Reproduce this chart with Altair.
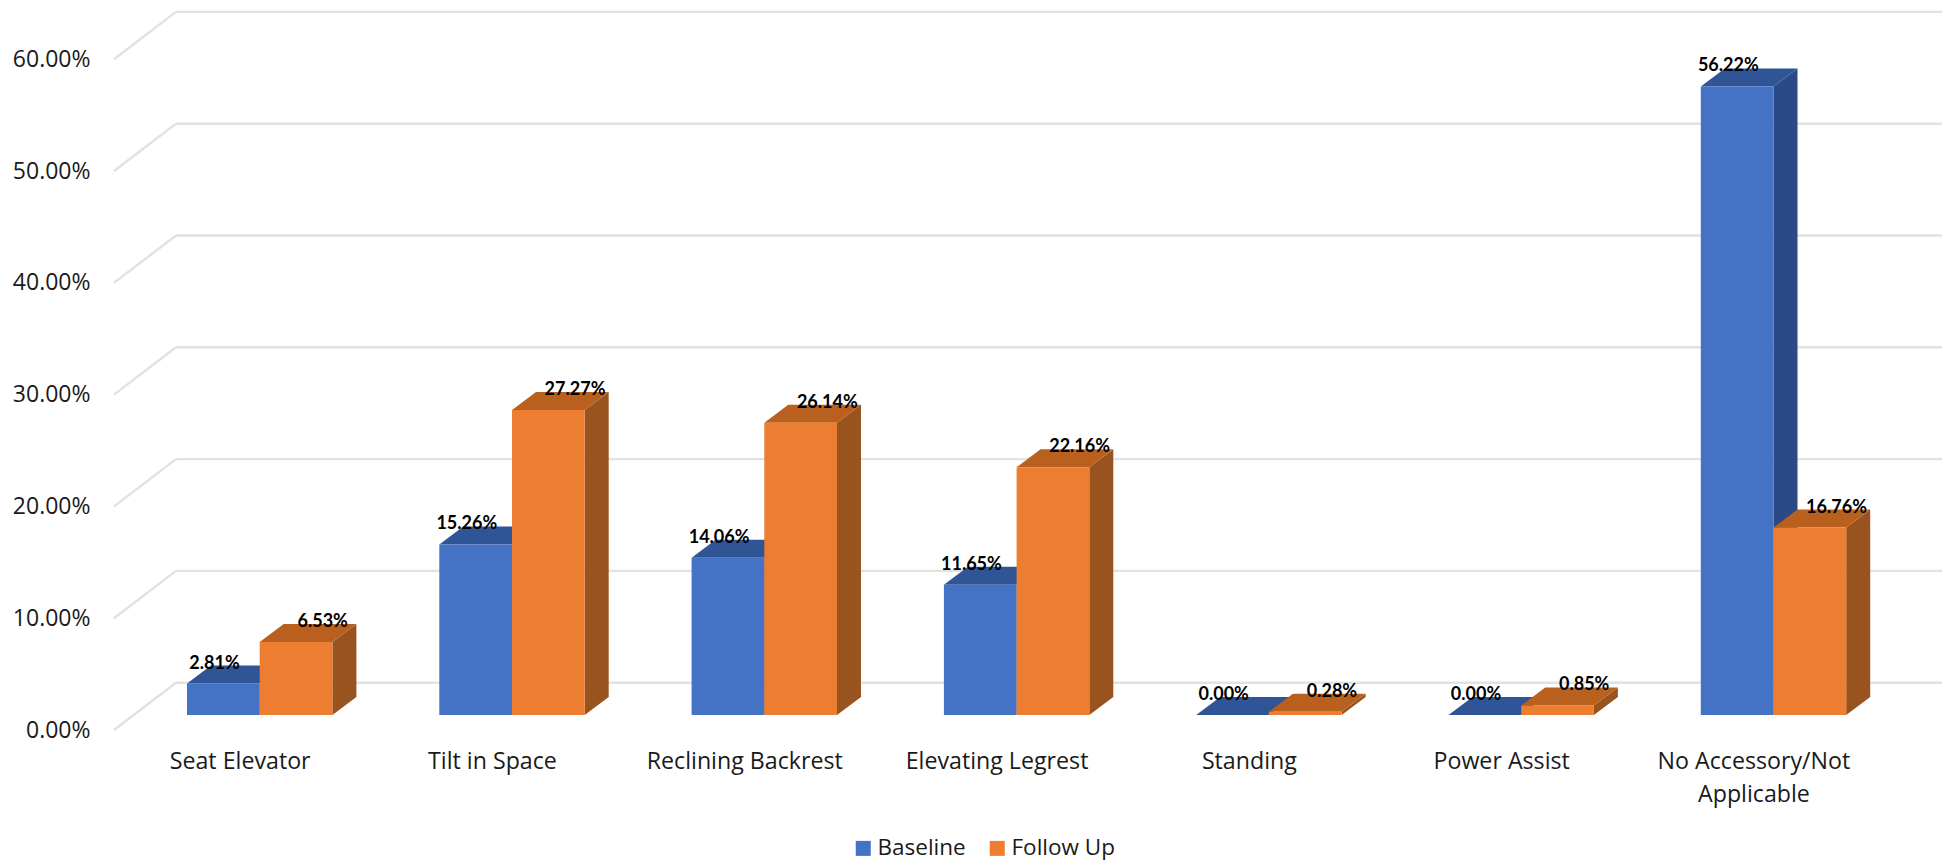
import altair as alt
import pandas as pd

categories = ["Seat Elevator", "Tilt in Space", "Reclining Backrest", "Elevating Legrest",
              "Standing", "Power Assist", "No Accessory/Not\nApplicable"]
baseline = [2.81, 15.26, 14.06, 11.65, 0.00, 0.00, 56.22]
follow_up = [6.53, 27.27, 26.14, 22.16, 0.28, 0.85, 16.76]
series_names = ["Baseline", "Follow Up"]
tick_values = [0, 10, 20, 30, 40, 50, 60]

FRONT = {"Baseline": "#4472C4", "Follow Up": "#ED7D31"}
TOP = {"Baseline": "#2F5597", "Follow Up": "#B9601F"}
SIDE = {"Baseline": "#2B4A85", "Follow Up": "#99531F"}
GRID = "#E2E2E2"

PLOT_W, PLOT_H = 1828, 850
PX_Y = 11.18                 # px per percentage point
PX_X = 252.3                 # px per category
X_MAX = PLOT_W / PX_X
Y_MAX = 718 / PX_Y
Y_MIN = Y_MAX - PLOT_H / PX_Y

FLOOR_DX, FLOOR_DY = 62 / PX_X, 47.3 / PX_Y
BASE = 15 / PX_Y
BAR_W = 72.7 / PX_X
BAR_X0 = 73 / PX_X
DEPTH_X, DEPTH_Y = 24 / PX_X, 18 / PX_Y

x_scale = alt.Scale(domain=[0, X_MAX], range=[0, PLOT_W], nice=False, zero=False)
y_scale = alt.Scale(domain=[Y_MIN, Y_MAX], nice=False, zero=False)

y_axis = alt.Axis(
    values=tick_values, title=None, domain=False, ticks=False, grid=False,
    labelExpr="format(datum.value/100,'.2%')", labelFont="Open Sans",
    labelFontSize=23, labelColor="#1a1a1a", labelPadding=24)

X = alt.X("x:Q", scale=x_scale, axis=None)
Y = alt.Y("y:Q", scale=y_scale, axis=y_axis, title=None)

# --- floor / wall gridlines
grid_rows, diag_rows = [], []
for t in tick_values:
    grid_rows.append({"x": FLOOR_DX, "x2": X_MAX, "y": t + FLOOR_DY})
    diag_rows.append({"x": 0, "y": t, "tick": t})
    diag_rows.append({"x": FLOOR_DX, "y": t + FLOOR_DY, "tick": t})

wall = alt.Chart(pd.DataFrame(grid_rows)).mark_rule(color=GRID, strokeWidth=2.4).encode(
    x=X, x2="x2:Q", y=Y)
diag = alt.Chart(pd.DataFrame(diag_rows)).mark_line(color=GRID, strokeWidth=2.4).encode(
    x=X, y=Y, detail="tick:N")

# --- bars
front_rows, side_rows, top_rows, label_rows = [], [], [], []
for s, (name, values) in enumerate(zip(series_names, [baseline, follow_up])):
    for i, v in enumerate(values):
        x0 = i + BAR_X0 + s * BAR_W
        x1 = x0 + BAR_W
        yb = BASE
        yv = BASE + v
        key = f"{i}"
        front_rows.append({"series": name, "x": x0, "x2": x1, "y": yb, "y2": yv})
        side_rows += [
            {"series": name, "k": key, "x": x1, "y": yb, "y2": yv},
            {"series": name, "k": key, "x": x1 + DEPTH_X, "y": yb + DEPTH_Y, "y2": yv + DEPTH_Y},
        ]
        top_rows += [
            {"series": name, "k": key, "x": x0, "y": yv, "y2": yv},
            {"series": name, "k": key, "x": x0 + DEPTH_X, "y": yv, "y2": yv + DEPTH_Y},
            {"series": name, "k": key, "x": x1, "y": yv, "y2": yv + DEPTH_Y},
            {"series": name, "k": key, "x": x1 + DEPTH_X, "y": yv + DEPTH_Y, "y2": yv + DEPTH_Y},
        ]
        label_rows.append({
            "x": i + BAR_X0 + (27.5 if s == 0 else 63 + 72.7) / PX_X,
            "y": yv + DEPTH_Y + 2 / PX_Y,
            "label": f"{v:.2f}%",
        })

front_df, side_df, top_df = map(pd.DataFrame, (front_rows, side_rows, top_rows))


def series_layers(name):
    fr = front_df[front_df.series == name]
    si = side_df[side_df.series == name]
    to = top_df[top_df.series == name]
    side = alt.Chart(si).mark_area(color=SIDE[name], interpolate="linear").encode(
        x=X, y=Y, y2="y2:Q", detail="k:N")
    top = alt.Chart(to).mark_area(color=TOP[name], interpolate="linear").encode(
        x=X, y=Y, y2="y2:Q", detail="k:N")
    front = alt.Chart(fr).mark_rect().encode(
        x=X, x2="x2:Q", y=Y, y2="y2:Q",
        color=alt.Color("series:N",
                        scale=alt.Scale(domain=series_names,
                                        range=[FRONT[n] for n in series_names]),
                        legend=alt.Legend(
                            orient="none", direction="horizontal", title=None,
                            legendX=738, legendY=825,
                            symbolType="square", symbolSize=225, symbolStrokeWidth=0,
                            labelFont="Open Sans", labelFontSize=22.5, labelColor="#1a1a1a",
                            columnPadding=20, labelOffset=3)))
    return [side, top, front]


labels = alt.Chart(pd.DataFrame(label_rows)).mark_text(
    font="Lato", fontWeight="bold", fontSize=18, color="black", baseline="middle", align="center"
).encode(x=X, y=Y, text="label:N")

cat_df = pd.DataFrame({"x": [i + 0.5 for i in range(len(categories))],
                       "y": [(730 - 751) / PX_Y] * len(categories),
                       "label": categories})
cats = alt.Chart(cat_df).mark_text(
    font="Open Sans", fontSize=23.2, color="#1a1a1a", baseline="top", align="center",
    lineBreak="\n", lineHeight=33
).encode(x=X, y=Y, text="label:N")

chart = alt.layer(
    wall, diag,
    *series_layers("Baseline"), *series_layers("Follow Up"),
    labels, cats
).resolve_scale(color="shared").properties(
    width=PLOT_W, height=PLOT_H, background="white",
    autosize=alt.AutoSizeParams(type="none"),
    padding={"left": 106, "top": 4, "right": 0, "bottom": 0},
).configure_view(stroke=None)

chart.save("out.html", embed_options={"renderer": "svg", "actions": False})
